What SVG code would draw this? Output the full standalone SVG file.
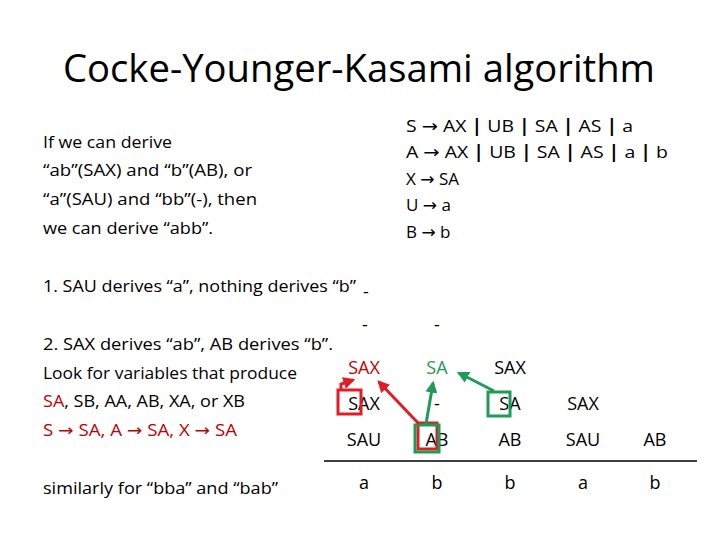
<svg xmlns="http://www.w3.org/2000/svg" width="720" height="540" viewBox="0 0 720 540">
<defs>
<style>
text{font-family:"Open Sans","Liberation Sans",sans-serif;fill:#000}
.t{font-size:38px}
.l{font-size:16px}
.g{font-size:17px}
.c{font-size:18px;text-anchor:middle}
.red{fill:#c00000}
.grn{fill:#1f9a57}
.a{font-family:"DejaVu Sans",sans-serif}
.rs{stroke:#e31b23;stroke-width:3;fill:none}
.gs{stroke:#1f9a57;stroke-width:3;fill:none}
</style>
<marker id="ar" viewBox="0 0 10 10" refX="8" refY="5" markerWidth="4" markerHeight="4" orient="auto"><path d="M0,0L10,5L0,10z" fill="#e31b23"/></marker>
<marker id="ag" viewBox="0 0 10 10" refX="8" refY="5" markerWidth="4" markerHeight="4" orient="auto"><path d="M0,0L10,5L0,10z" fill="#1f9a57"/></marker>
</defs>
<rect width="720" height="540" fill="#fff"/>
<g id="title"><text class="t" x="63" y="82" textLength="592" lengthAdjust="spacingAndGlyphs">Cocke-Younger-Kasami algorithm</text></g>
<g id="intro">
<text class="l" x="43" y="148" textLength="129" lengthAdjust="spacingAndGlyphs">If we can derive</text>
<text class="l" x="43" y="176" textLength="209" lengthAdjust="spacingAndGlyphs">“ab”(SAX) and “b”(AB), or</text>
<text class="l" x="43" y="205" textLength="214" lengthAdjust="spacingAndGlyphs">“a”(SAU) and “bb”(-), then</text>
<text class="l" x="43" y="234" textLength="170" lengthAdjust="spacingAndGlyphs">we can derive “abb”.</text>
</g>
<g id="grammar">
<text class="g" x="406" y="132" textLength="227" lengthAdjust="spacingAndGlyphs">S <tspan class="a">→</tspan> AX <tspan font-weight="bold">|</tspan> UB <tspan font-weight="bold">|</tspan> SA <tspan font-weight="bold">|</tspan> AS <tspan font-weight="bold">|</tspan> a</text>
<text class="g" x="406" y="158" textLength="262" lengthAdjust="spacingAndGlyphs">A <tspan class="a">→</tspan> AX <tspan font-weight="bold">|</tspan> UB <tspan font-weight="bold">|</tspan> SA <tspan font-weight="bold">|</tspan> AS <tspan font-weight="bold">|</tspan> a <tspan font-weight="bold">|</tspan> b</text>
<text class="g" x="406" y="185">X <tspan class="a">→</tspan> SA</text>
<text class="g" x="406" y="211">U <tspan class="a">→</tspan> a</text>
<text class="g" x="406" y="238">B <tspan class="a">→</tspan> b</text>
</g>
<g id="steps">
<text class="l" x="43" y="292" textLength="313" lengthAdjust="spacingAndGlyphs">1. SAU derives “a”, nothing derives “b”</text>
<text class="l" x="43" y="350" textLength="290" lengthAdjust="spacingAndGlyphs">2. SAX derives “ab”, AB derives “b”.</text>
<text class="l" x="43" y="379" textLength="254" lengthAdjust="spacingAndGlyphs">Look for variables that produce</text>
<text class="l" x="43" y="407" textLength="202" lengthAdjust="spacingAndGlyphs"><tspan class="red">SA</tspan>, SB, AA, AB, XA, or XB</text>
<text class="l red" x="43" y="436" textLength="194" lengthAdjust="spacingAndGlyphs">S <tspan class="a">→</tspan> SA, A <tspan class="a">→</tspan> SA, X <tspan class="a">→</tspan> SA</text>
<text class="l" x="43" y="494" textLength="235" lengthAdjust="spacingAndGlyphs">similarly for “bba” and “bab”</text>
</g>
<g id="table">
<text class="c" x="366" y="298">-</text>
<text class="c" x="365" y="331">-</text>
<text class="c" x="437" y="331">-</text>
<text class="c red" x="364" y="374">SAX</text>
<text class="c grn" x="437" y="374">SA</text>
<text class="c" x="510" y="374">SAX</text>
<text class="c" x="364" y="410">SAX</text>
<text class="c" x="437" y="410">-</text>
<text class="c" x="510" y="410">SA</text>
<text class="c" x="583" y="410">SAX</text>
<text class="c" x="364" y="446">SAU</text>
<text class="c" x="437" y="446">AB</text>
<text class="c" x="510" y="446">AB</text>
<text class="c" x="583" y="446">SAU</text>
<text class="c" x="655" y="446">AB</text>
<line x1="324" y1="461" x2="697" y2="461" stroke="#000" stroke-width="1.3"/>
<text class="c" x="364" y="489">a</text>
<text class="c" x="437" y="489">b</text>
<text class="c" x="510" y="489">b</text>
<text class="c" x="583" y="489">a</text>
<text class="c" x="655" y="489">b</text>
</g>
<g id="connectors">
<rect class="rs" x="338" y="390" width="23" height="24"/>
<rect class="rs" x="418" y="423" width="19" height="26"/>
<rect class="gs" x="415" y="425" width="24" height="27"/>
<rect class="gs" x="488" y="392" width="22" height="24"/>
<polyline class="rs" points="341,390 341,384 353,380" marker-end="url(#ar)"/>
<line class="rs" x1="419" y1="424" x2="379" y2="382" marker-end="url(#ar)"/>
<line class="gs" x1="426" y1="424" x2="433" y2="383" marker-end="url(#ag)"/>
<line class="gs" x1="494" y1="391" x2="459" y2="373" marker-end="url(#ag)"/>
</g>
</svg>
